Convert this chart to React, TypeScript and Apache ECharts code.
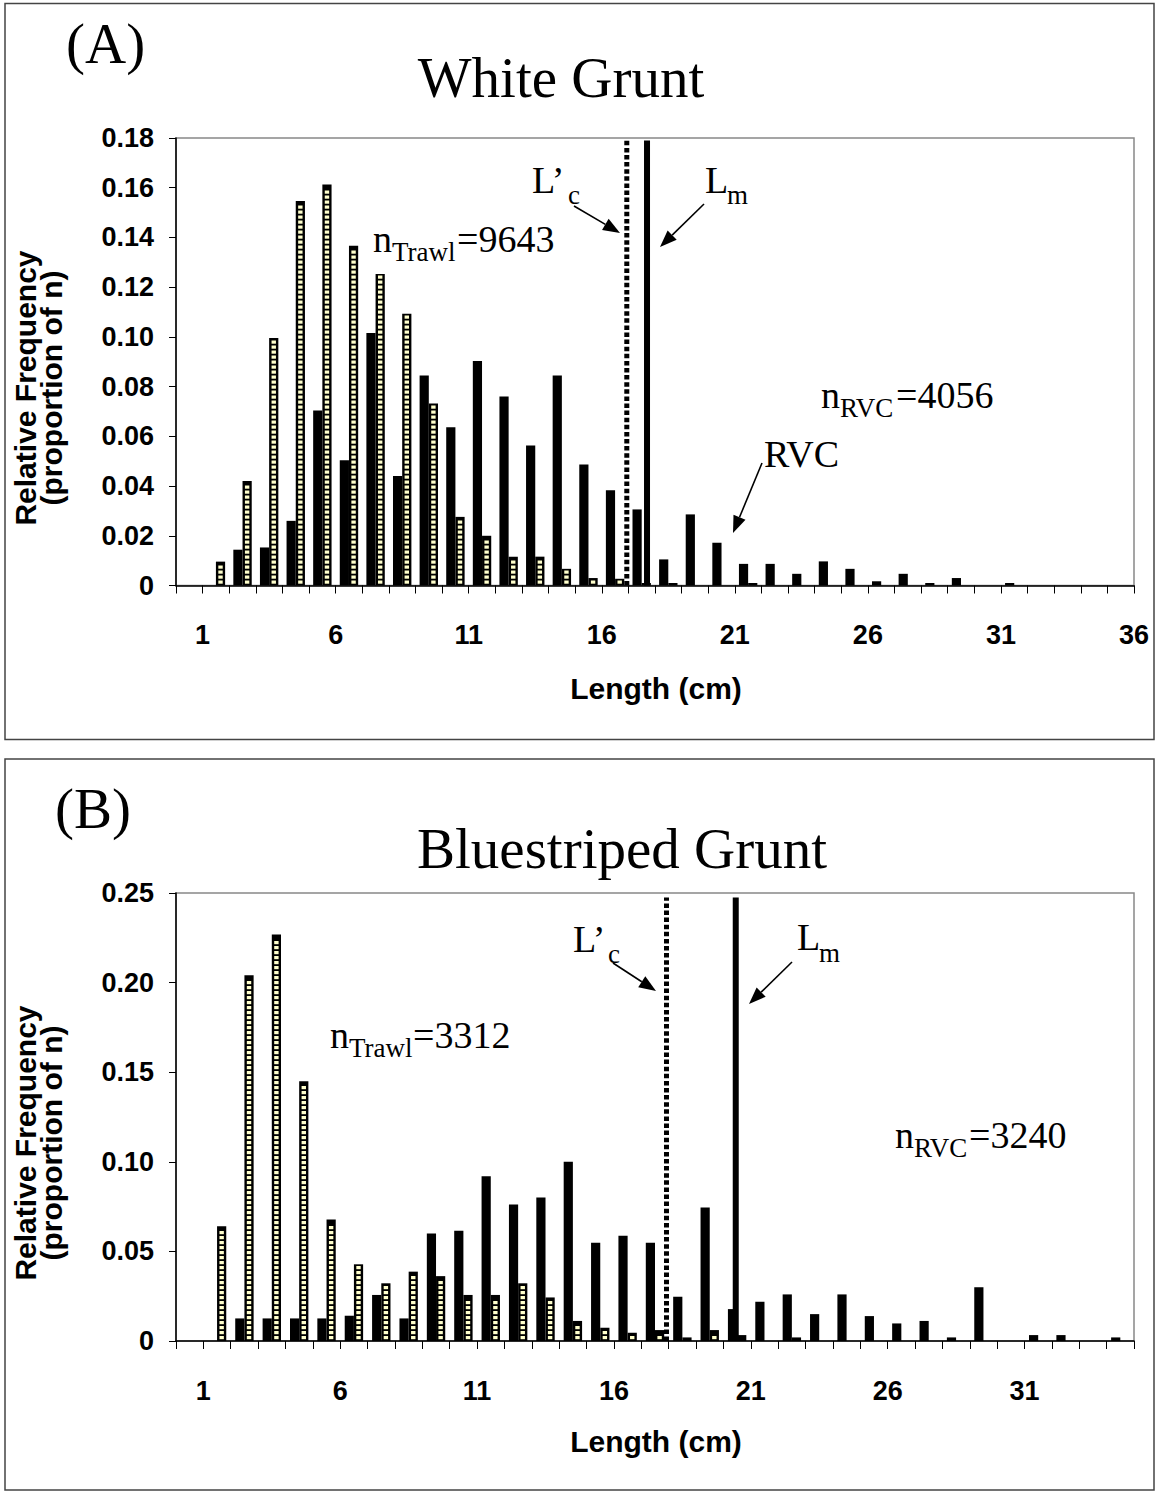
import React, { useEffect, useRef } from "react";
import * as echarts from "echarts";

// ---------- DATA ----------
const classesA = ["0","1","2","3","4","5","6","7","8","9","10","11","12","13","14","15","16","17","18","19","20","21","22","23","24","25","26","27","28","29","30","31","32","33","34","35"];
const rvcA = [0, 0, 0.0144, 0.0153, 0.026, 0.0704, 0.0504, 0.1016, 0.044, 0.0845, 0.0637, 0.0903, 0.076, 0.0563, 0.0845, 0.0487, 0.0383, 0.0306, 0.0105, 0.0286, 0.0172, 0.0087, 0.0087, 0.0047, 0.0097, 0.0067, 0.0017, 0.0047, 0.001, 0.003, 0, 0.001, 0, 0, 0, 0];
const trawlA = [0, 0.0096, 0.042, 0.0996, 0.1547, 0.1613, 0.1367, 0.1253, 0.1093, 0.0732, 0.0276, 0.02, 0.0116, 0.0116, 0.0067, 0.003, 0.0027, 0.001, 0.001, 0, 0, 0.001, 0, 0, 0, 0, 0, 0, 0, 0, 0, 0, 0, 0, 0, 0];

const classesB = ["0","1","2","3","4","5","6","7","8","9","10","11","12","13","14","15","16","17","18","19","20","21","22","23","24","25","26","27","28","29","30","31","32","33","34"];
const rvcB = [0, 0, 0.0126, 0.0126, 0.0126, 0.0126, 0.0141, 0.0257, 0.0126, 0.06, 0.0615, 0.092, 0.0762, 0.0801, 0.1, 0.0548, 0.0587, 0.0548, 0.0247, 0.0745, 0.0178, 0.0219, 0.026, 0.015, 0.026, 0.0139, 0.0098, 0.0112, 0.002, 0.03, 0, 0.0033, 0.0033, 0, 0.002];
const trawlB = [0, 0.0641, 0.2041, 0.2268, 0.145, 0.0678, 0.0428, 0.0322, 0.0387, 0.0362, 0.0257, 0.0257, 0.0322, 0.0243, 0.0112, 0.0074, 0.0046, 0.0061, 0.002, 0.0061, 0.0033, 0, 0.002, 0, 0, 0, 0, 0, 0, 0, 0, 0, 0, 0, 0];

const xLabelsA = [1, 6, 11, 16, 21, 26, 31, 36];
const xLabelsB = [1, 6, 11, 16, 21, 26, 31];
const yAxisA = { min: 0, max: 0.18, interval: 0.02 };
const yAxisB = { min: 0, max: 0.25, interval: 0.05 };

// reference lines (L'c dotted, Lm solid) in axis units
const lcA = 16.94, lmA = 17.7, lineTopA = 0.179;
const lcB = 17.92, lmB = 20.45, lineTopB = 0.2475;

// ---------- STYLE ----------
const SERIF = "Liberation Serif";
const SANS = "Liberation Sans";
const BAR_W = 9.2;
const SQ_W = 4.4;
const SQ_H = 3.2;
const SQ_P = 5;
const YELLOW = "#FFFFCC";

function hatch(params: any, api: any) {
  const v = api.value(1);
  if (!v) return null;
  const idx = api.value(0);
  const top = api.coord([idx, v]);
  const base = api.coord([idx, 0]);
  const x0 = top[0] + BAR_W / 2 - SQ_W / 2;
  const children: any[] = [];
  for (let yb = base[1] - 1.8; yb - SQ_H >= top[1] + 1.5; yb -= SQ_P) {
    children.push({
      type: "rect",
      shape: { x: x0, y: yb - SQ_H, width: SQ_W, height: SQ_H },
      style: { fill: YELLOW },
    });
  }
  return { type: "group", children };
}

function txt(text: string, x: number, baseline: number, size: number, opts: any = {}) {
  const family = opts.family || SERIF;
  const k = family === SERIF ? 0.3375 : 0.3465;
  return {
    type: "text",
    x,
    y: baseline - k * size,
    rotation: opts.rotation || 0,
    style: {
      text,
      fontSize: size,
      fontFamily: family,
      fontWeight: opts.weight || "normal",
      fill: "#000",
      align: opts.align || "left",
      verticalAlign: "middle",
    },
  };
}

function rotTxt(text: string, cx: number, cy: number, size: number) {
  return {
    type: "text",
    x: cx,
    y: cy,
    rotation: Math.PI / 2,
    style: {
      text,
      fontSize: size,
      fontFamily: SANS,
      fontWeight: "bold",
      fill: "#000",
      align: "center",
      verticalAlign: "middle",
    },
  };
}

function arrow(x1: number, y1: number, x2: number, y2: number) {
  const dx = x2 - x1, dy = y2 - y1;
  const len = Math.sqrt(dx * dx + dy * dy);
  const ux = dx / len, uy = dy / len;
  const hl = 17, hw = 6.5;
  const bx = x2 - ux * hl, by = y2 - uy * hl;
  return [
    { type: "line", shape: { x1, y1, x2: bx, y2: by }, style: { stroke: "#000", lineWidth: 1.6 } },
    {
      type: "polygon",
      shape: { points: [[x2, y2], [bx - uy * hw, by + ux * hw], [bx + uy * hw, by - ux * hw]] },
      style: { fill: "#000" },
    },
  ];
}

function yFmt(v: number) {
  return v === 0 ? "0" : v.toFixed(2);
}

const axisLabelStyle = { fontFamily: SANS, fontWeight: "bold", fontSize: 27, color: "#000" };

function buildOption() {
  const grids = [
    { left: 176, top: 138, width: 958, height: 447.5 },
    { left: 176, top: 893, width: 958, height: 448 },
  ];
  const catAxis = (gi: number, data: string[]) => ({
    type: "category",
    gridIndex: gi,
    data,
    boundaryGap: true,
    show: false,
  });
  const valX = (gi: number, max: number, labels: number[]) => ({
    type: "value",
    gridIndex: gi,
    min: 0,
    max,
    interval: 1,
    position: "bottom",
    axisLine: { show: true, onZero: false, lineStyle: { color: "#000", width: 1.5 } },
    axisTick: { show: true, inside: false, length: 8, lineStyle: { color: "#000", width: 1 } },
    axisLabel: {
      ...axisLabelStyle,
      margin: 36,
      showMinLabel: true,
      showMaxLabel: true,
      formatter: (v: number) => (labels.includes(Math.round(v)) ? String(Math.round(v)) : ""),
    },
    splitLine: { show: false },
  });
  const valY = (gi: number, cfg: any) => ({
    type: "value",
    gridIndex: gi,
    min: cfg.min,
    max: cfg.max,
    interval: cfg.interval,
    axisLine: { show: true, lineStyle: { color: "#000", width: 1.5 } },
    axisTick: { show: true, inside: false, length: 7, lineStyle: { color: "#000", width: 1 } },
    axisLabel: { ...axisLabelStyle, margin: 22, formatter: yFmt },
    splitLine: { show: false },
  });

  const barSeries = (name: string, xi: number, yi: number, data: number[]) => ({
    name,
    type: "bar",
    xAxisIndex: xi,
    yAxisIndex: yi,
    data,
    barWidth: BAR_W,
    barGap: "0%",
    silent: true,
    itemStyle: { color: "#000", borderColor: "#000", borderWidth: 0 },
    emphasis: { disabled: true },
  });
  const hatchSeries = (xi: number, yi: number, data: number[]) => ({
    type: "custom",
    xAxisIndex: xi,
    yAxisIndex: yi,
    renderItem: hatch,
    data: data.map((v, i) => [i, v]),
    encode: { x: 0, y: 1 },
    silent: true,
    z: 5,
  });
  const vline = (xi: number, yi: number, x: number, top: number, dotted: boolean) => ({
    type: "line",
    xAxisIndex: xi,
    yAxisIndex: yi,
    data: [[x, 0], [x, top]],
    symbol: "none",
    silent: true,
    z: 6,
    lineStyle: dotted
      ? { color: "#000", width: 5, type: [4.5, 2.6], cap: "butt" }
      : { color: "#000", width: 6, type: "solid", cap: "butt" },
  });

  const graphic: any[] = [
    // panel frames
    { type: "rect", shape: { x: 5, y: 3.5, width: 1149, height: 736 }, style: { fill: "none", stroke: "#444", lineWidth: 1.5 } },
    { type: "rect", shape: { x: 5, y: 759, width: 1149, height: 731 }, style: { fill: "none", stroke: "#444", lineWidth: 1.5 } },
    // panel A texts
    txt("(A)", 66, 63, 57),
    txt("White Grunt", 561, 97, 57, { align: "center" }),
    rotTxt("Relative Frequency", 25, 388, 30),
    rotTxt("(proportion of n)", 51, 388, 30),
    txt("Length (cm)", 656, 699, 30, { family: SANS, weight: "bold", align: "center" }),
    txt("L\u2019", 532, 193, 38),
    txt("c", 568, 204, 27),
    txt("L", 705, 193, 38),
    txt("m", 727, 204, 27),
    txt("n", 373, 252, 38),
    txt("Trawl", 392, 261, 27),
    txt("=9643", 457, 252, 38),
    txt("n", 821, 408, 38),
    txt("RVC", 840, 417, 27),
    txt("=4056", 896, 408, 38),
    txt("RVC", 764, 467, 38),
    ...arrow(574, 206, 620, 233),
    ...arrow(704, 204, 660, 247),
    ...arrow(762, 463, 733, 533),
    // panel B texts
    txt("(B)", 55, 828, 57),
    txt("Bluestriped Grunt", 622, 868, 57, { align: "center" }),
    rotTxt("Relative Frequency", 25, 1143, 30),
    rotTxt("(proportion of n)", 51, 1143, 30),
    txt("Length (cm)", 656, 1452, 30, { family: SANS, weight: "bold", align: "center" }),
    txt("L\u2019", 573, 952, 38),
    txt("c", 608, 963, 27),
    txt("L", 797, 950, 38),
    txt("m", 819, 962, 27),
    txt("n", 330, 1048, 38),
    txt("Trawl", 349, 1057, 27),
    txt("=3312", 413, 1048, 38),
    txt("n", 895, 1148, 38),
    txt("RVC", 914, 1157, 27),
    txt("=3240", 969, 1148, 38),
    ...arrow(613, 963, 656, 991),
    ...arrow(792, 962, 749, 1004),
  ];

  return {
    animation: false,
    backgroundColor: "#fff",
    grid: grids.map((g) => ({ ...g, show: true, borderColor: "#888", borderWidth: 1.5, backgroundColor: "transparent" })),
    xAxis: [catAxis(0, classesA), valX(0, 36, xLabelsA), catAxis(1, classesB), valX(1, 35, xLabelsB)],
    yAxis: [valY(0, yAxisA), valY(1, yAxisB)],
    series: [
      barSeries("RVC A", 0, 0, rvcA),
      barSeries("Trawl A", 0, 0, trawlA),
      hatchSeries(0, 0, trawlA),
      vline(1, 0, lcA, lineTopA, true),
      vline(1, 0, lmA, lineTopA, false),
      barSeries("RVC B", 2, 1, rvcB),
      barSeries("Trawl B", 2, 1, trawlB),
      hatchSeries(2, 1, trawlB),
      vline(3, 1, lcB, lineTopB, true),
      vline(3, 1, lmB, lineTopB, false),
    ],
    graphic,
  };
}

export default function App() {
  const ref = useRef<HTMLDivElement>(null);
  useEffect(() => {
    if (!ref.current) return;
    const chart = echarts.init(ref.current, undefined, { renderer: "svg" });
    chart.setOption(buildOption() as any);
    return () => chart.dispose();
  }, []);
  return (
    <div
      ref={ref}
      style={{ position: "absolute", left: 0, top: 0, width: 1157, height: 1491, background: "#fff" }}
    />
  );
}
